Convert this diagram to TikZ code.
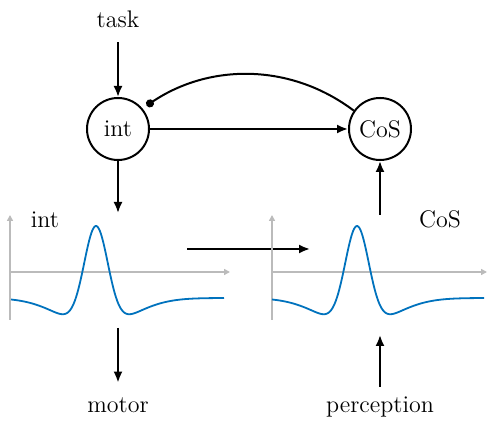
\documentclass[tikz,border=0pt]{standalone}
\usetikzlibrary{arrows.meta}
\definecolor{curveblue}{HTML}{0072BD}
\definecolor{axisgray}{HTML}{BBBBBB}
\begin{document}
\begin{tikzpicture}[x=0.5pt,y=0.5pt,
  font=\fontsize{12}{14}\selectfont,
  conn/.style={line width=1pt,-{Latex[length=5.5pt,width=4.5pt]}},
  unit/.style={circle,draw,line width=1pt,minimum size=31pt,inner sep=0pt},
  lbl/.style={inner sep=0pt,text height=8pt,text depth=0pt,anchor=base},
  axis/.style={axisgray,line width=0.8pt,-{Triangle[length=3pt,width=3pt]}},
  fieldcurve/.style={curveblue,line width=0.9pt}]
\useasboundingbox (0,0) rectangle (487,421);
% nodes
\node[lbl] (task) at (118,393) {task};
\node[unit] (int) at (118,292) {int};
\node[unit] (cos) at (380,292) {CoS};
\node[lbl] (motor) at (118,8) {motor};
\node[lbl] (perc) at (380,8) {perception};
\node[lbl] (intlbl) at (45,193) {int};
\node[lbl] (coslbl) at (440,193) {CoS};
% coordinates
\coordinate (intin) at (118,208);
\coordinate (motout) at (118,93);
\coordinate (cosout) at (380,206);
\coordinate (percin) at (380,86);
\coordinate (midA) at (187,172);
\coordinate (midB) at (310,172);
% connectors
\draw[conn,shorten <=7pt] (task) -- (int);
\draw[conn] (int) -- (cos);
\draw[line width=1pt,-{Circle[length=4pt]},shorten >=2.5pt]
  (cos.145) .. controls +(143:80) and +(34:80) .. (int.40);
\draw[conn] (int) -- (intin);
\draw[conn] (cosout) -- (cos);
\draw[conn,shorten >=7pt] (motout) -- (motor);
\draw[conn,shorten <=5pt] (perc) -- (percin);
\draw[conn] (midA) -- (midB);
% left plot
\draw[axis] (10,101) -- (10,206);
\draw[axis] (10,149) -- (230,149);
\draw[fieldcurve] plot[domain=-85:128,samples=200]
  ({96+\x},{149-26+100.9*exp(-(\x/10)^2/2.88)-28.9*exp(-(\x/10)^2/24.5)});
% right plot
\draw[axis] (272,101) -- (272,206);
\draw[axis] (272,149) -- (487,149);
\draw[fieldcurve] plot[domain=-85:127,samples=200]
  ({357+\x},{149-26+100.9*exp(-(\x/10)^2/2.88)-28.9*exp(-(\x/10)^2/24.5)});
\end{tikzpicture}
\end{document}
